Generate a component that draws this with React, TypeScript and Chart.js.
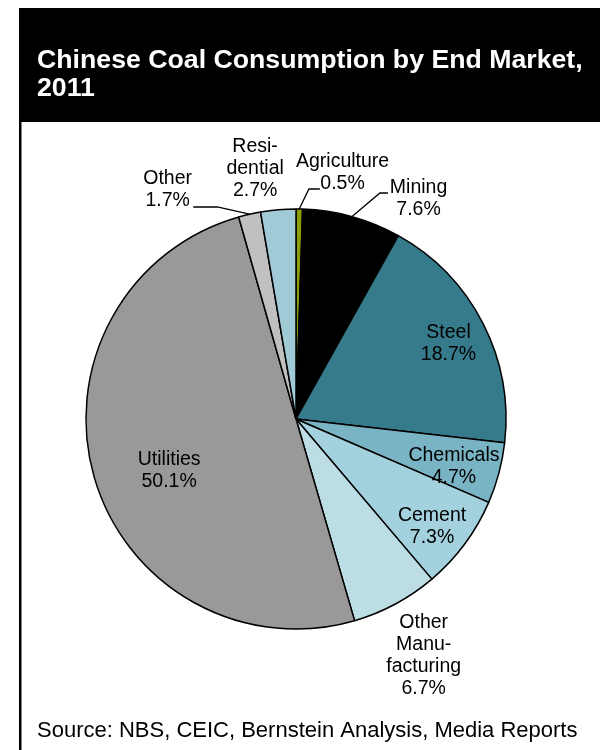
import React, { useEffect, useRef } from "react";
import { Chart, registerables } from "chart.js";

Chart.register(...registerables);

// ---- data ----
const categories = [
  "Agriculture",
  "Mining",
  "Steel",
  "Chemicals",
  "Cement",
  "Other Manufacturing",
  "Utilities",
  "Other",
  "Residential",
];
const shares = [0.5, 7.6, 18.7, 4.7, 7.3, 6.7, 50.1, 1.7, 2.7];
const labelNames = [
  ["Agriculture"],
  ["Mining"],
  ["Steel"],
  ["Chemicals"],
  ["Cement"],
  ["Other", "Manu-", "facturing"],
  ["Utilities"],
  ["Other"],
  ["Resi-", "dential"],
];
const titleLines = ["Chinese Coal Consumption by End Market,", "2011"];
const sourceText = "Source: NBS, CEIC, Bernstein Analysis, Media Reports";

// ---- styles ----
const sliceColors = [
  "#8e9d0c",
  "#000000",
  "#367b8b",
  "#79b4c4",
  "#a3d2de",
  "#bddde5",
  "#999999",
  "#c0c0c0",
  "#9fcad6",
];
const FONT = "'Liberation Sans', Arial, Helvetica, sans-serif";

// label placement relative to each slice: angle shift (deg) from slice middle, radius factor
const labelPlace = [
  { da: 9.8, rf: 1.194, leader: { da: 2.3, rf: 1.097, len: 11 } },
  { da: 13.6, rf: 1.201, leader: { da: 4.9, rf: 1.148, len: 8 } },
  { da: 0.9, rf: 0.81 },
  { da: 1.7, rf: 0.785 },
  { da: 1.8, rf: 0.826 },
  { da: -0.1, rf: 1.28 },
  { da: -6.1, rf: 0.652 },
  { da: -16.5, rf: 1.25, leader: { da: -7.6, rf: 1.077, len: -24 } },
  { da: -4.4, rf: 1.21 },
];

const framePlugin = {
  id: "frame",
  beforeDraw(chart: any) {
    const ctx = chart.ctx;
    ctx.save();
    ctx.fillStyle = "#ffffff";
    ctx.fillRect(0, 0, chart.width, chart.height);
    ctx.fillStyle = "#000000";
    ctx.fillRect(19, 8, chart.width - 19, 114);
    ctx.fillRect(19, 8, 2.5, chart.height - 8);
    // title
    ctx.fillStyle = "#ffffff";
    ctx.font = `bold 26.7px ${FONT}`;
    ctx.textAlign = "left";
    ctx.textBaseline = "middle";
    titleLines.forEach((t, i) => ctx.fillText(t, 37, 61 + i * 28));
    // source
    ctx.fillStyle = "#000000";
    ctx.font = `22px ${FONT}`;
    ctx.fillText(sourceText, 37, 731);
    ctx.restore();
  },
};

const labelPlugin = {
  id: "sliceLabels",
  afterDatasetsDraw(chart: any) {
    const ctx = chart.ctx;
    const meta = chart.getDatasetMeta(0);
    ctx.save();
    ctx.font = `19.5px ${FONT}`;
    ctx.fillStyle = "#000000";
    ctx.textAlign = "center";
    ctx.textBaseline = "middle";
    const lh = 22;
    meta.data.forEach((arc: any, i: number) => {
      const p = arc.getProps(["x", "y", "startAngle", "endAngle", "outerRadius"], true);
      const mid = (p.startAngle + p.endAngle) / 2;
      const place = labelPlace[i];
      const ang = mid + (place.da * Math.PI) / 180;
      const cx = p.x + Math.cos(ang) * p.outerRadius * place.rf;
      const cy = p.y + Math.sin(ang) * p.outerRadius * place.rf;
      const lines = [...labelNames[i], `${shares[i].toFixed(1)}%`];
      lines.forEach((t, k) => {
        ctx.fillText(t, cx, cy + (k - (lines.length - 1) / 2) * lh);
      });
      if (place.leader) {
        const L = place.leader;
        const sx = p.x + Math.cos(mid) * p.outerRadius;
        const sy = p.y + Math.sin(mid) * p.outerRadius;
        const ea = mid + (L.da * Math.PI) / 180;
        const ex = p.x + Math.cos(ea) * p.outerRadius * L.rf;
        const ey = p.y + Math.sin(ea) * p.outerRadius * L.rf;
        ctx.beginPath();
        ctx.strokeStyle = "#000000";
        ctx.lineWidth = 1.3;
        ctx.moveTo(sx, sy);
        ctx.lineTo(ex, ey);
        ctx.lineTo(ex + L.len, ey);
        ctx.stroke();
      }
    });
    ctx.restore();
  },
};

export default function App() {
  const ref = useRef<HTMLCanvasElement | null>(null);
  useEffect(() => {
    if (!ref.current) return;
    const chart = new Chart(ref.current, {
      type: "pie",
      data: {
        labels: categories,
        datasets: [
          {
            data: shares,
            backgroundColor: sliceColors,
            borderColor: "#000000",
            borderWidth: 1.5,
          },
        ],
      },
      options: {
        responsive: false,
        animation: false,
        radius: 210,
        layout: { padding: { left: 37, right: 45, top: 209, bottom: 121 } },
        plugins: {
          legend: { display: false },
          tooltip: { enabled: false },
          title: { display: false },
        },
      } as any,
      plugins: [framePlugin, labelPlugin],
    });
    return () => chart.destroy();
  }, []);
  return (
    <div style={{ position: "absolute", left: 0, top: 0, width: 600, height: 750 }}>
      <canvas ref={ref} width={600} height={750} style={{ width: 600, height: 750, display: "block" }} />
    </div>
  );
}
